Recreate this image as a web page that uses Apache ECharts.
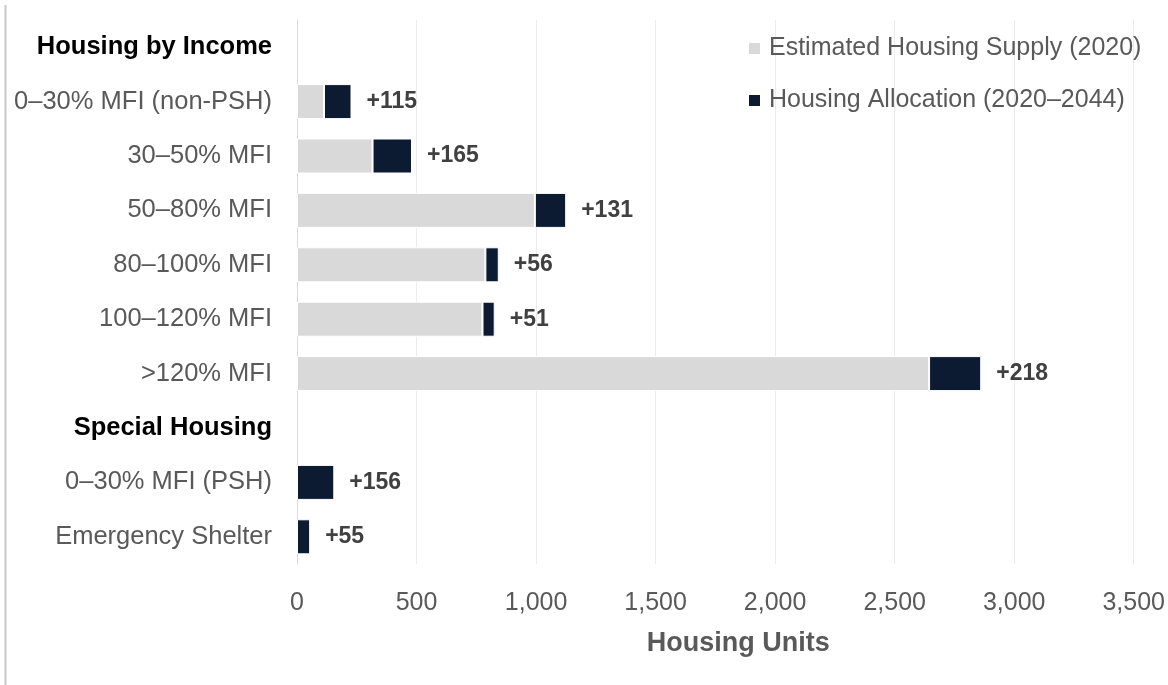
<!DOCTYPE html>
<html>
<head>
<meta charset="utf-8">
<script src="https://cdn.jsdelivr.net/npm/echarts@6/dist/echarts.min.js"></script>
<style>
  html, body { margin: 0; padding: 0; background: #fff; }
  #chart { width: 1168px; height: 685px; }
</style>
</head>
<body>
<div id="chart"></div>
<script>
// categories top to bottom (headers have no bars)
const categories = [
    'Housing by Income',
    '0–30% MFI (non-PSH)',
    '30–50% MFI',
    '50–80% MFI',
    '80–100% MFI',
    '100–120% MFI',
    '>120% MFI',
    'Special Housing',
    '0–30% MFI (PSH)',
    'Emergency Shelter'
];
const headers = ['Housing by Income', 'Special Housing'];

// Estimated Housing Supply (2020)
const supply = ['-', 113, 316, 995, 788, 776, 2644, '-', 0, 0];
// Housing Allocation (2020–2044)
const allocation = ['-', 115, 165, 131, 56, 51, 218, '-', 156, 55];

const xTicks = {min: 0, max: 3500, interval: 500};

const font = 'Liberation Sans, Arial, sans-serif';
const chart = echarts.init(document.getElementById('chart'));

chart.setOption({
    animation: false,
    textStyle: {fontFamily: font},
    grid: {left: 297, right: 33, top: 20, bottom: 121, containLabel: false},
    legend: {
        orient: 'vertical',
        left: 742,
        top: 31,
        itemWidth: 13,
        itemHeight: 13,
        itemGap: 27,
        icon: 'rect',
        textStyle: {fontSize: 25, color: '#595959', fontFamily: font, padding: [0, 0, 0, 3]},
        data: ['Estimated Housing Supply (2020)', 'Housing Allocation (2020–2044)']
    },
    xAxis: {
        type: 'value',
        min: xTicks.min,
        max: xTicks.max,
        interval: xTicks.interval,
        name: 'Housing Units',
        nameLocation: 'middle',
        nameGap: 66,
        nameTextStyle: {fontSize: 27, fontWeight: 'bold', color: '#595959', padding: [0, 0, 0, 46]},
        axisLine: {show: false},
        axisTick: {show: false},
        axisLabel: {
            fontSize: 25,
            color: '#595959',
            margin: 27,
            formatter: v => v.toLocaleString('en-US')
        },
        splitLine: {lineStyle: {color: '#ececec', width: 1}}
    },
    yAxis: {
        type: 'category',
        inverse: true,
        data: categories,
        axisLine: {show: true, lineStyle: {color: '#d9d9d9', width: 1}},
        axisTick: {show: false},
        axisLabel: {
            margin: 25,
            fontSize: 25.5,
            color: '#595959',
            formatter: v => headers.includes(v) ? '{h|' + v + '}' : v,
            rich: {
                h: {fontSize: 25.5, fontWeight: 'bold', color: '#000', fontFamily: font}
            }
        }
    },
    series: [
        {
            name: 'Estimated Housing Supply (2020)',
            type: 'bar',
            stack: 'total',
            barWidth: 35,
            data: supply,
            itemStyle: {color: '#d9d9d9', borderColor: '#fff', borderWidth: 1}
        },
        {
            name: 'Housing Allocation (2020–2044)',
            type: 'bar',
            stack: 'total',
            barWidth: 35,
            data: allocation,
            itemStyle: {color: '#0c1a32', borderColor: '#fff', borderWidth: 1},
            label: {
                show: true,
                position: 'right',
                distance: 15,
                fontSize: 23,
                fontWeight: 'bold',
                color: '#404040',
                formatter: p => '+' + p.value
            }
        }
    ],
    graphic: [{
        type: 'line',
        shape: {x1: 5.5, y1: 5, x2: 5.5, y2: 685},
        style: {stroke: '#c8c8c8', lineWidth: 2}
    }]
});
</script>
</body>
</html>
